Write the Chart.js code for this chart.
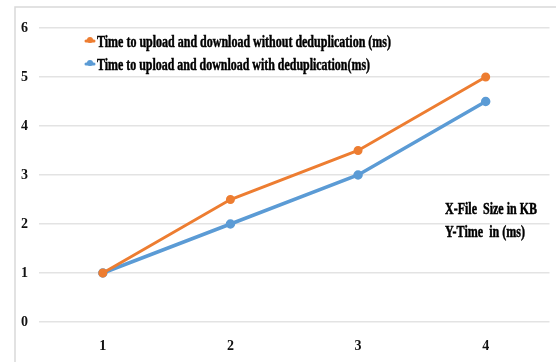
<!DOCTYPE html>
<html>
<head>
<meta charset="utf-8">
<script src="https://cdn.jsdelivr.net/npm/chart.js@4/dist/chart.umd.min.js"></script>
<style>
  html, body { margin: 0; padding: 0; background: #ffffff; }
  #wrap { position: relative; width: 556px; height: 362px; }
</style>
</head>
<body>
<div id="wrap"><canvas id="chart" width="556" height="362"></canvas></div>
<script>
// File sizes (KB) on the x axis
const fileSizes = ['1', '2', '3', '4'];
// Transfer times (ms)
const withoutDedup = [1, 2.5, 3.5, 5];
const withDedup = [1, 2, 3, 4.5];
// Series names
const seriesNames = [
  'Time to upload and download without deduplication (ms)',
  'Time to upload and download with deduplication(ms)'
];
// Axis note shown inside the plot
const axisNotes = ['X-File  Size in KB', 'Y-Time  in (ms)'];

const ORANGE = '#ED7D31';
const BLUE = '#5B9BD5';
const TEXT_FONT = "bold 17px 'Liberation Serif', 'Times New Roman', serif";

// Draws condensed bold text so that it spans the given width
function condensedText(ctx, text, x, y, width) {
  ctx.save();
  ctx.font = TEXT_FONT;
  ctx.textBaseline = 'middle';
  ctx.textAlign = 'left';
  ctx.fillStyle = '#000000';
  ctx.strokeStyle = '#000000';
  ctx.lineWidth = 0.5;
  const w = ctx.measureText(text).width;
  const sx = width / w;
  ctx.translate(x, y);
  ctx.scale(sx, 1);
  ctx.fillText(text, 0, 0);
  ctx.strokeText(text, 0, 0);
  ctx.restore();
}

// Light frame around the whole chart
const framePlugin = {
  id: 'frame',
  beforeDraw(chart) {
    const c = chart.ctx;
    c.save();
    c.strokeStyle = '#d9d9d9';
    c.lineWidth = 1.5;
    c.strokeRect(15, 7, 700, 500);
    c.restore();
  }
};

// Legend inside the plot area, top-left
const legendPlugin = {
  id: 'innerLegend',
  afterDraw(chart) {
    const c = chart.ctx;
    const widths = [294, 273];
    chart.data.datasets.forEach((ds, i) => {
      const y = 41 + i * 23;
      c.save();
      c.strokeStyle = ds.borderColor;
      c.fillStyle = ds.borderColor;
      c.lineWidth = 3;
      c.lineCap = 'round';
      c.beginPath();
      c.moveTo(86, y);
      c.lineTo(94, y);
      c.stroke();
      c.beginPath();
      c.arc(90, y - 1, 3, 0, Math.PI * 2);
      c.fill();
      c.restore();
      condensedText(c, ds.label, 97, y + 2, widths[i]);
    });
  }
};

// Axis description note on the right
const notePlugin = {
  id: 'axisNote',
  afterDraw(chart) {
    const c = chart.ctx;
    const widths = [92, 80];
    axisNotes.forEach((t, i) => {
      condensedText(c, t, 445, 210 + i * 23, widths[i]);
    });
  }
};

const tickFont = { family: "'Liberation Sans Narrow', 'Liberation Serif', serif", size: 14, weight: 'bold' };

new Chart(document.getElementById('chart'), {
  type: 'line',
  data: {
    labels: fileSizes,
    datasets: [
      {
        label: seriesNames[0],
        data: withoutDedup,
        borderColor: ORANGE,
        backgroundColor: ORANGE,
        borderWidth: 3,
        pointRadius: 3,
        pointHoverRadius: 3,
        tension: 0
      },
      {
        label: seriesNames[1],
        data: withDedup,
        borderColor: BLUE,
        backgroundColor: BLUE,
        borderWidth: 3.5,
        pointRadius: 3,
        pointHoverRadius: 3,
        tension: 0
      }
    ]
  },
  options: {
    responsive: false,
    animation: false,
    devicePixelRatio: 1,
    layout: { padding: { left: 14, top: 28, right: 6, bottom: 0 } },
    plugins: {
      legend: { display: false },
      tooltip: { enabled: false }
    },
    scales: {
      x: {
        offset: true,
        grid: { display: false, drawTicks: false },
        border: { display: false },
        ticks: { color: '#111111', font: tickFont, padding: 16 },
        afterFit(scale) { scale.height = 40; }
      },
      y: {
        min: 0,
        max: 6,
        grid: { color: '#e3e3e3', lineWidth: 1.5, drawTicks: false },
        border: { display: false },
        ticks: { stepSize: 1, color: '#111111', font: tickFont, padding: 11 },
        afterFit(scale) { scale.width = 25; }
      }
    }
  },
  plugins: [framePlugin, legendPlugin, notePlugin]
});
</script>
</body>
</html>
